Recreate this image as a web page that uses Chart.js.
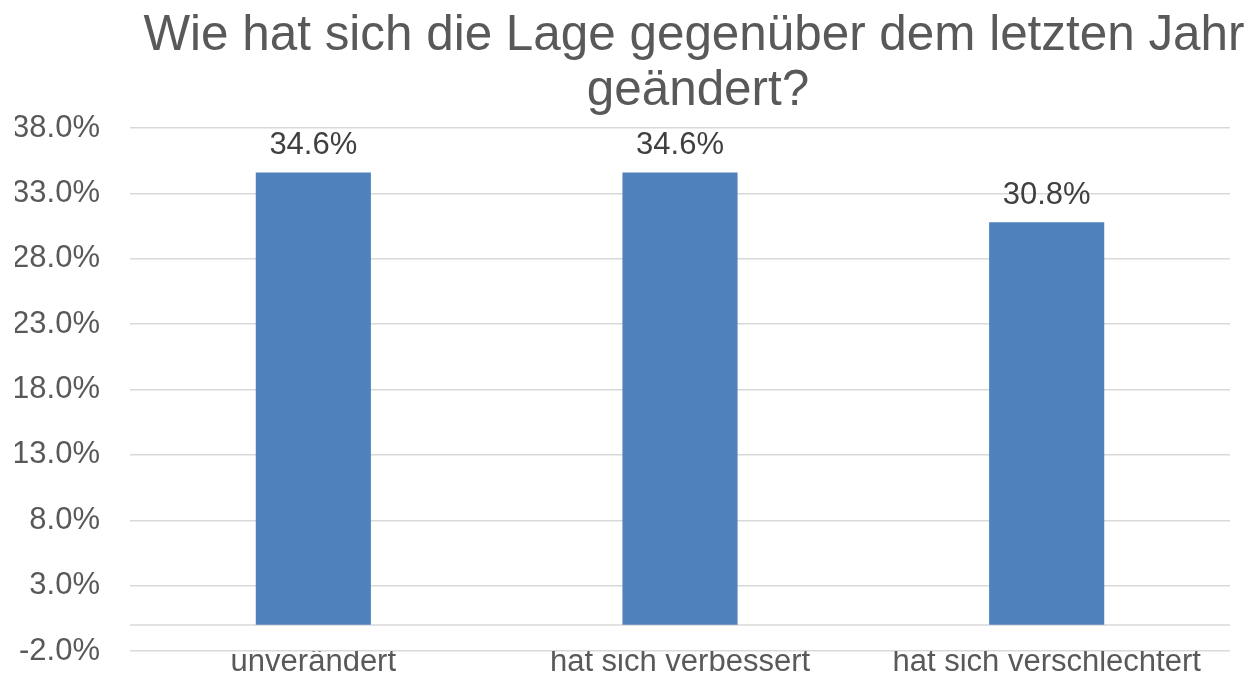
<!DOCTYPE html>
<html lang="de">
<head>
<meta charset="utf-8">
<title>Wie hat sich die Lage gegenüber dem letzten Jahr geändert?</title>
<script src="https://cdn.jsdelivr.net/npm/chart.js@4.4.1/dist/chart.umd.min.js"></script>
<style>
  html, body { margin: 0; padding: 0; background: #ffffff; }
  #wrap { width: 1257px; height: 676px; position: relative; }
</style>
</head>
<body>
<div id="wrap">
  <canvas id="lageChart"></canvas>
</div>
<script>
// chart data
const categories = ["unverändert", "hat sich verbessert", "hat sich verschlechtert"];
const shares = [34.6, 34.6, 30.8];
const titleLines = ["Wie hat sich die Lage gegenüber dem letzten Jahr", "geändert?"];

const FONT = "'Liberation Sans', Arial, sans-serif";
const TEXT_GREY = "#595959";
const LABEL_DARK = "#404040";
const GRID_GREY = "#d9d9d9";
const BAR_BLUE = "#4f81bd";

function formatPercent(value) {
  return Number(value).toFixed(1) + "%";
}

// Title is drawn by hand so it can sit a little right of the canvas centre, like the original
const titlePlugin = {
  id: "twoLineTitle",
  afterDraw(chart) {
    const ctx = chart.ctx;
    ctx.save();
    ctx.fillStyle = TEXT_GREY;
    ctx.font = "49.4px " + FONT;
    ctx.textAlign = "center";
    ctx.textBaseline = "alphabetic";
    ctx.fillText(titleLines[0], 694, 50);
    ctx.fillText(titleLines[1], 698, 105);
    ctx.restore();
  }
};

// horizontal axis line at 0 (not a tick value)
const zeroLinePlugin = {
  id: "zeroLine",
  beforeDatasetsDraw(chart) {
    const y = Math.round(chart.scales.y.getPixelForValue(0));
    const area = chart.chartArea;
    const ctx = chart.ctx;
    ctx.save();
    ctx.strokeStyle = GRID_GREY;
    ctx.lineWidth = 1.5;
    ctx.beginPath();
    ctx.moveTo(area.left, y);
    ctx.lineTo(area.right, y);
    ctx.stroke();
    ctx.restore();
  }
};

// value labels above the bars
const barLabelPlugin = {
  id: "barLabels",
  afterDatasetsDraw(chart) {
    const ctx = chart.ctx;
    const meta = chart.getDatasetMeta(0);
    ctx.save();
    ctx.fillStyle = LABEL_DARK;
    ctx.font = "31px " + FONT;
    ctx.textAlign = "center";
    ctx.textBaseline = "alphabetic";
    meta.data.forEach((bar, i) => {
      ctx.fillText(formatPercent(shares[i]), bar.x, bar.y - 18);
    });
    ctx.restore();
  }
};

new Chart(document.getElementById("lageChart"), {
  type: "bar",
  data: {
    labels: categories,
    datasets: [
      {
        data: shares,
        backgroundColor: BAR_BLUE,
        borderWidth: 0,
        categoryPercentage: 1,
        barPercentage: 0.314
      }
    ]
  },
  options: {
    responsive: true,
    maintainAspectRatio: false,
    animation: false,
    layout: {
      padding: { top: 128, left: 15, right: 27, bottom: 0 }
    },
    plugins: {
      legend: { display: false },
      title: { display: false },
      tooltip: { enabled: false }
    },
    scales: {
      x: {
        grid: { display: false, drawTicks: false },
        border: { display: false },
        afterFit: scale => { scale.height = 25; },
        ticks: {
          color: TEXT_GREY,
          padding: 0,
          maxRotation: 0,
          autoSkip: false,
          font: { family: FONT, size: 31, lineHeight: 0.75 }
        }
      },
      y: {
        min: -2,
        max: 38,
        grid: { color: GRID_GREY, lineWidth: 1.5, drawTicks: false },
        border: { display: false },
        // fixed axis width; drop the label overhang so the plot reaches down to the x labels
        afterFit: scale => {
          scale.width = 115;
          scale.paddingTop = 0;
          scale.paddingBottom = 0;
        },
        ticks: {
          stepSize: 5,
          color: TEXT_GREY,
          padding: 30,
          font: { family: FONT, size: 31 },
          callback: value => formatPercent(value)
        }
      }
    }
  },
  plugins: [zeroLinePlugin, barLabelPlugin, titlePlugin]
});
</script>
</body>
</html>
